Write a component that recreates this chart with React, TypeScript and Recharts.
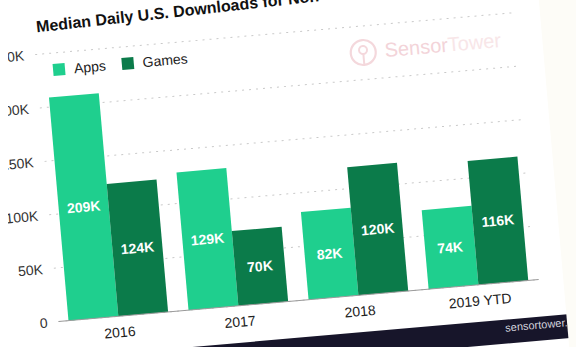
import React from 'react';
import { BarChart, Bar, XAxis, YAxis, CartesianGrid, Legend, LabelList } from 'recharts';

const categories = ['2016', '2017', '2018', '2019 YTD'];
const appsValues = [209, 129, 82, 74];
const gamesValues = [124, 70, 120, 116];
const yTicks = [0, 50, 100, 150, 200, 250];
const seriesNames = ['Apps', 'Games'];
const titleText = 'Median Daily U.S. Downloads for Non-Game Apps';

const APPS = '#1fcf8e';
const GAMES = '#0b7b4a';
const FONT = '"Liberation Sans", Arial, Helvetica, sans-serif';

const data = categories.map((c, i) => ({ name: c, apps: appsValues[i], games: gamesValues[i] }));

const LegendContent = () => (
  <div style={{ display: 'flex', alignItems: 'center', fontFamily: FONT, fontSize: 14, color: '#222', whiteSpace: 'nowrap', height: 16 }}>
    {[APPS, GAMES].map((col, i) => (
      <span key={i} style={{ display: 'inline-flex', alignItems: 'center', marginRight: 16 }}>
        <span style={{ width: 12, height: 12, background: col, display: 'inline-block', marginRight: 9 }} />
        <span>{seriesNames[i]}</span>
      </span>
    ))}
  </div>
);

const fmtY = (v: number) => (v === 0 ? '0' : `${v}K`);
const fmtLabel = (v: any) => `${v}K`;

export default function App() {
  return (
    <div style={{ position: 'fixed', left: 0, top: 0, width: 576, height: 347, overflow: 'hidden', background: '#fdfcf7' }}>
      <div
        style={{
          position: 'absolute', left: -40, top: -40, width: 593, height: 440,
          background: '#ffffff', overflow: 'hidden',
          transform: 'rotate(-5deg)', transformOrigin: '328px 213.5px',
        }}
      >
        <div style={{ position: 'absolute', left: 40, top: 40, width: 553, height: 400 }}>
          <div
            style={{
              position: 'absolute', left: 50, top: -2, fontFamily: FONT, fontSize: 16, fontWeight: 700,
              lineHeight: '16px', color: '#111', whiteSpace: 'nowrap',
              transform: 'rotate(-1.3deg)', transformOrigin: '0px 14px',
            }}
          >
            {titleText}
          </div>
          <svg style={{ position: 'absolute', left: 359, top: 45 }} width={29} height={29}>
            <circle cx={14.5} cy={14.5} r={12.5} fill="none" stroke="#f4d8dc" strokeWidth={2.2} />
            <circle cx={14.5} cy={12} r={4} fill="none" stroke="#f4d8dc" strokeWidth={2} />
            <line x1={14.5} y1={16} x2={14.5} y2={27} stroke="#f4d8dc" strokeWidth={2} />
          </svg>
          <div style={{ position: 'absolute', left: 395, top: 49, fontFamily: FONT, fontSize: 20, lineHeight: '20px', whiteSpace: 'nowrap' }}>
            <span style={{ color: '#f3d4d9' }}>Sensor</span>
            <span style={{ color: '#f8e6e8' }}>Tower</span>
          </div>
          <div style={{ position: 'absolute', left: 0, top: 0 }}>
            <BarChart
              width={553}
              height={331}
              data={data}
              margin={{ top: 33, right: 24.5, left: 0, bottom: 0 }}
              barCategoryGap={10}
              barGap={0}
            >
              <CartesianGrid vertical={false} stroke="#c9c9c9" strokeDasharray="2 5" />
              <XAxis
                dataKey="name"
                tickLine={false}
                axisLine={{ stroke: '#9a9a9a' }}
                tick={{ fill: '#222', fontSize: 14, fontFamily: FONT }}
                tickMargin={5}
                height={30}
              />
              <YAxis
                domain={[0, 250]}
                ticks={yTicks}
                tickFormatter={fmtY}
                tickLine={false}
                axisLine={false}
                width={46.5}
                tickMargin={5}
                tick={{ fill: '#333', fontSize: 14, fontFamily: FONT }}
              />
              <Legend
                verticalAlign="middle"
                align="center"
                layout="horizontal"
                content={LegendContent}
                wrapperStyle={{ left: 63, top: 42, width: 220, height: 16 }}
              />
              <Bar dataKey="apps" name={seriesNames[0]} fill={APPS} isAnimationActive={false}>
                <LabelList dataKey="apps" position="center" formatter={fmtLabel} fill="#fff" fontSize={14} fontWeight={700} fontFamily={FONT} />
              </Bar>
              <Bar dataKey="games" name={seriesNames[1]} fill={GAMES} isAnimationActive={false}>
                <LabelList dataKey="games" position="center" formatter={fmtLabel} fill="#fff" fontSize={14} fontWeight={700} fontFamily={FONT} />
              </Bar>
            </BarChart>
          </div>
          <div style={{ position: 'absolute', left: -40, top: 338, width: 600, height: 24, background: '#17152a' }} />
          <div style={{ position: 'absolute', left: 491, top: 338, fontFamily: FONT, fontSize: 11, fontWeight: 400, lineHeight: '17px', color: '#d4d4de', whiteSpace: 'nowrap' }}>
            sensortower.com
          </div>
        </div>
      </div>
      <div style={{ position: 'absolute', left: 0, top: 0, width: 8, height: 347, background: '#ffffff' }} />
    </div>
  );
}
